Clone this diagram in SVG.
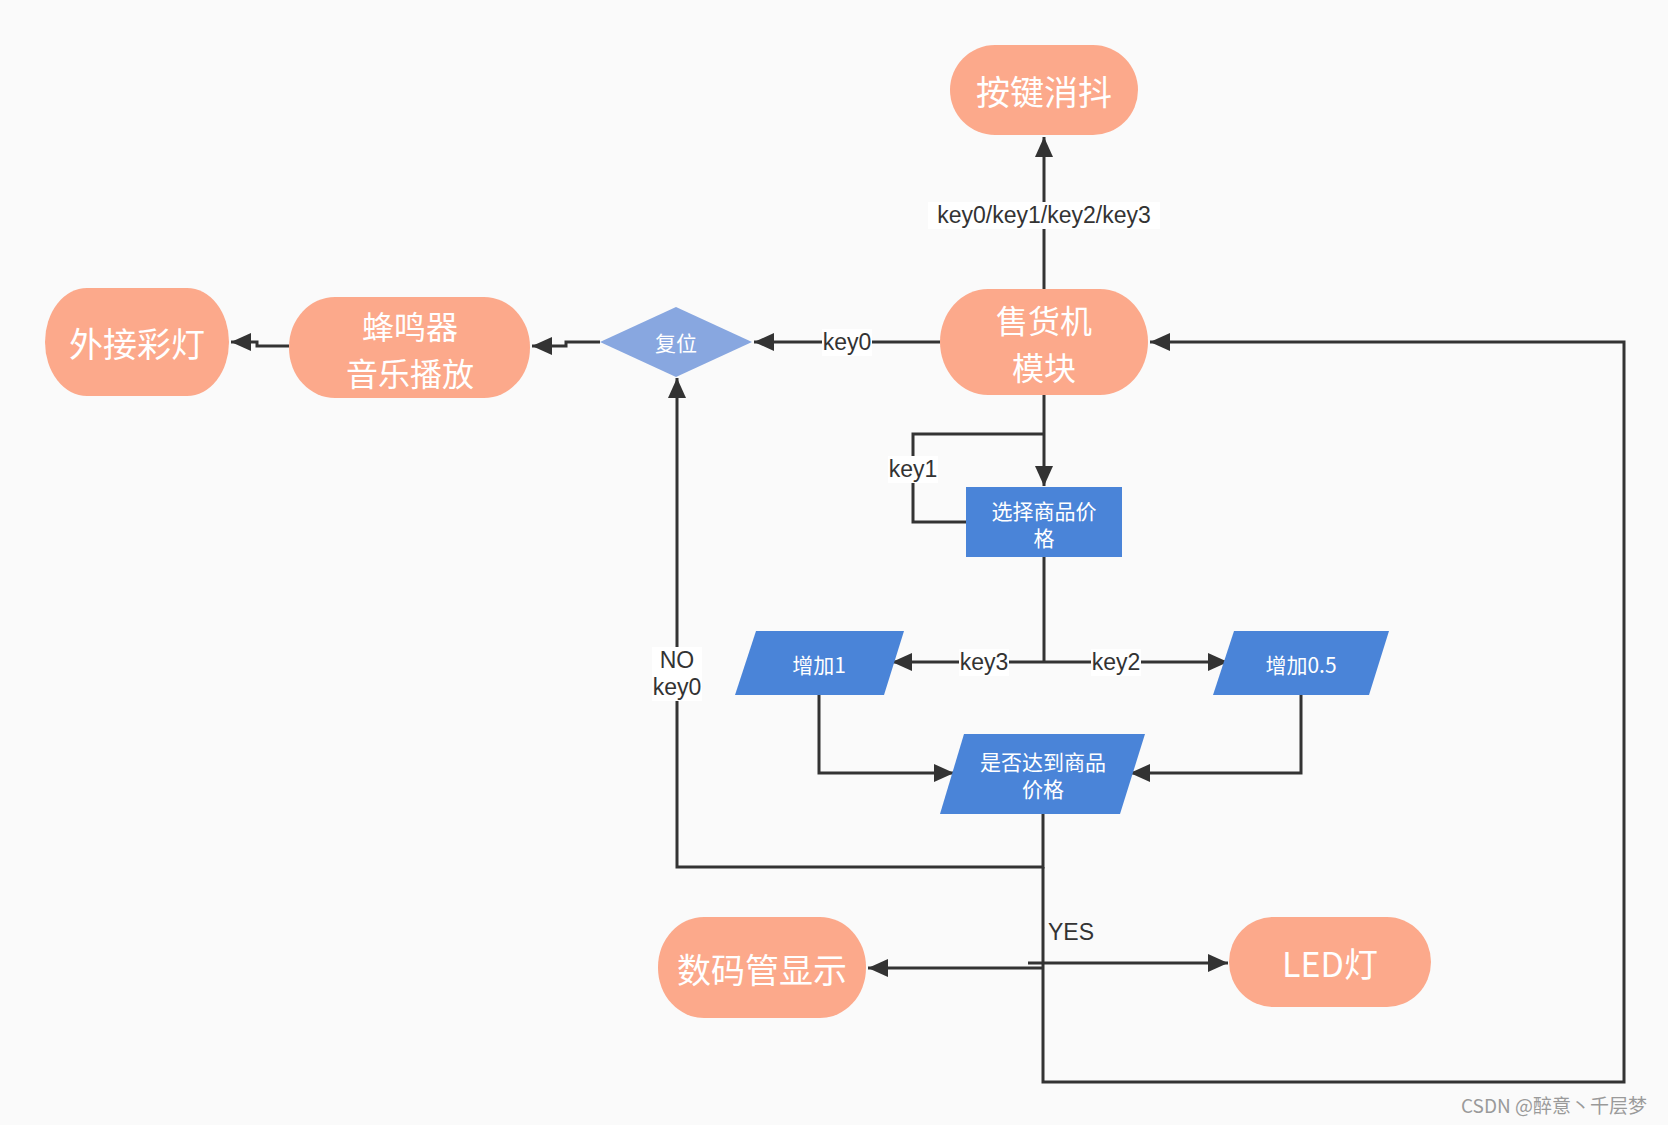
<svg xmlns="http://www.w3.org/2000/svg" width="1668" height="1125" viewBox="0 0 1668 1125">
<defs>
<style>
.bg{fill:#fafafa}
.sal{fill:#fca98b}
.blue{fill:#4a84d8}
.dia{fill:#88a7e0}
.big{font-family:"Noto Sans CJK SC","Noto Sans",sans-serif;font-size:34px;fill:#ffffff;text-anchor:middle;dominant-baseline:central}
.big2{font-family:"Noto Sans CJK SC","Noto Sans",sans-serif;font-size:32px;fill:#ffffff;text-anchor:middle;dominant-baseline:central}
.sm{font-family:"Noto Sans CJK SC","Noto Sans",sans-serif;font-size:21px;fill:#ffffff;text-anchor:middle;dominant-baseline:central}
.edge{fill:none;stroke:#333333;stroke-width:3}
.lbl{font-family:"Liberation Sans","Noto Sans",sans-serif;font-size:23px;fill:#333333;text-anchor:middle;dominant-baseline:central}
.lbg{fill:#ffffff}
.wm{font-family:"Noto Sans CJK SC","Liberation Sans",sans-serif;font-size:19px;fill:#9a9a9a}
</style>
<marker id="arr" markerUnits="userSpaceOnUse" markerWidth="22" markerHeight="20" refX="20" refY="9" orient="auto">
<path d="M0,0 L20,9 L0,18 Z" fill="#333333"/>
</marker>
</defs>
<rect class="bg" x="0" y="0" width="1668" height="1125"/>

<g id="connectors">
<path class="edge" d="M1044,289 L1044,137" marker-end="url(#arr)"/>
<path class="edge" d="M940,342 L754,342" marker-end="url(#arr)"/>
<path class="edge" d="M600,342 L566,342 L566,346 L532,346" marker-end="url(#arr)"/>
<path class="edge" d="M289,346 L257,346 L257,342 L231,342" marker-end="url(#arr)"/>
<path class="edge" d="M1044,395 L1044,486" marker-end="url(#arr)"/>
<path class="edge" d="M966,522 L913,522 L913,434 L1044,434"/>
<path class="edge" d="M1044,557 L1044,662"/>
<path class="edge" d="M1044,662 L892,662" marker-end="url(#arr)"/>
<path class="edge" d="M1044,662 L1228,662" marker-end="url(#arr)"/>
<path class="edge" d="M819,695 L819,773 L954,773" marker-end="url(#arr)"/>
<path class="edge" d="M1301,695 L1301,773 L1130,773" marker-end="url(#arr)"/>
<path class="edge" d="M1043,814 L1043,867 L677,867 L677,378" marker-end="url(#arr)"/>
<path class="edge" d="M1043,867 L1043,1082 L1624,1082 L1624,342 L1150,342" marker-end="url(#arr)"/>
<path class="edge" d="M1028,963 L1228,963" marker-end="url(#arr)"/>
<path class="edge" d="M1043,968 L868,968" marker-end="url(#arr)"/>
<rect class="lbg" x="928" y="202" width="232" height="27"/>
<text class="lbl" x="1044" y="215">key0/key1/key2/key3</text>
<rect class="lbg" x="822" y="329" width="50" height="27"/>
<text class="lbl" x="847" y="342">key0</text>
<rect class="lbg" x="888" y="456" width="50" height="27"/>
<text class="lbl" x="913" y="469">key1</text>
<rect class="lbg" x="959" y="649" width="50" height="27"/>
<text class="lbl" x="984" y="662">key3</text>
<rect class="lbg" x="1091" y="649" width="50" height="27"/>
<text class="lbl" x="1116" y="662">key2</text>
<rect class="lbg" x="652" y="647" width="50" height="54"/>
<text class="lbl" x="677" y="660">NO<tspan x="677" dy="27">key0</tspan></text>
<text class="lbl" x="1071" y="932">YES</text>
</g>

<g id="node-debounce">
<rect class="sal" x="950" y="45" width="188" height="90" rx="45" ry="45"/>
<text class="big" x="1044" y="90">按键消抖</text>
</g>
<g id="node-vending">
<rect class="sal" x="940" y="289" width="208" height="106" rx="48" ry="53"/>
<text class="big2" x="1044" y="319">售货机<tspan x="1044" dy="47">模块</tspan></text>
</g>
<g id="node-lights">
<rect class="sal" x="45" y="288" width="184" height="108" rx="42" ry="54"/>
<text class="big" x="137" y="342">外接彩灯</text>
</g>
<g id="node-buzzer">
<rect class="sal" x="289" y="297" width="241" height="101" rx="46" ry="50"/>
<text class="big2" x="410" y="325">蜂鸣器<tspan x="410" dy="47">音乐播放</tspan></text>
</g>
<g id="node-reset">
<polygon class="dia" points="600,342 676,307 752,342 676,377"/>
<text class="sm" x="676" y="342">复位</text>
</g>
<g id="node-select">
<rect class="blue" x="966" y="487" width="156" height="70"/>
<text class="sm" x="1044" y="510">选择商品价<tspan x="1044" dy="27">格</tspan></text>
</g>
<g id="node-add1">
<polygon class="blue" points="756,631 904,631 884,695 735,695"/>
<text class="sm" x="819" y="664">增加1</text>
</g>
<g id="node-add05">
<polygon class="blue" points="1234,631 1389,631 1369,695 1213,695"/>
<text class="sm" x="1301" y="664">增加0.5</text>
</g>
<g id="node-check">
<polygon class="blue" points="964,734 1145,734 1120,814 940,814"/>
<text class="sm" x="1043" y="761">是否达到商品<tspan x="1043" dy="27">价格</tspan></text>
</g>
<g id="node-seg">
<rect class="sal" x="658" y="917" width="208" height="101" rx="46" ry="50"/>
<text class="big" x="762" y="968">数码管显示</text>
</g>
<g id="node-led">
<rect class="sal" x="1229" y="917" width="202" height="90" rx="44" ry="45"/>
<text class="big" x="1330" y="962">LED灯</text>
</g>
<text class="wm" x="1461" y="1113">CSDN @醉意丶千层梦</text>
</svg>
